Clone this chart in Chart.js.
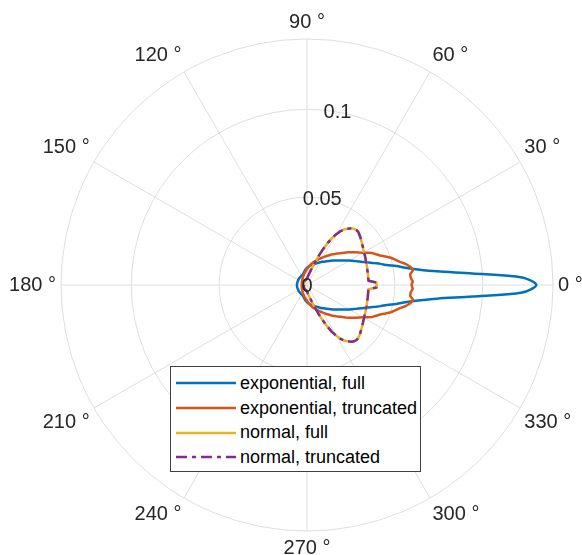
<!DOCTYPE html>
<html>
<head>
<meta charset="utf-8">
<title>Polar plot</title>
<style>
  html, body { margin: 0; padding: 0; background: #fff; overflow: hidden; }
  body { position: relative; width: 582px; height: 555px; }
  .chart-box { position: absolute; left: -4px; top: 0; width: 600px; height: 560px; }
  #legend {
    position: absolute; left: 170px; top: 366px; width: 251px; height: 106px;
    box-sizing: border-box; padding-top: 4px;
    border: 1px solid #404040; background: #fff;
  }
  .legend-row {
    display: flex; align-items: center; height: 24.7px;
    font: 18px "Liberation Sans", Arial, Helvetica, sans-serif; color: #000; white-space: nowrap;
  }
  .legend-row svg { margin-left: 5px; margin-right: 4px; flex: none; }
</style>
</head>
<body>
<div class="chart-box"><canvas id="chart"></canvas></div>
<div id="legend"></div>

<script src="https://cdn.jsdelivr.net/npm/chart.js@4.4.0/dist/chart.umd.min.js"></script>
<script>
// radius for theta = 0, 2, 4, ... 358 degrees
const angleStep = 2;

const expFull = [
  0.1305, 0.1225, 0.0943, 0.0744, 0.0637, 0.0568, 0.0520, 0.0468, 0.0436, 0.0403,
  0.0375, 0.0349, 0.0328, 0.0310, 0.0293, 0.0278, 0.0263, 0.0249, 0.0237, 0.0226,
  0.0217, 0.0208, 0.0200, 0.0191, 0.0184, 0.0177, 0.0170, 0.0164, 0.0159, 0.0154,
  0.0149, 0.0144, 0.0140, 0.0135, 0.0131, 0.0127, 0.0124, 0.0121, 0.0118, 0.0115,
  0.0113, 0.0110, 0.0107, 0.0104, 0.0101, 0.0098, 0.0094, 0.0091, 0.0087, 0.0084,
  0.0080, 0.0077, 0.0074, 0.0071, 0.0068, 0.0066, 0.0065, 0.0064, 0.0063, 0.0062,
  0.0062, 0.0061, 0.0061, 0.0060, 0.0060, 0.0060, 0.0059, 0.0059, 0.0059, 0.0059,
  0.0058, 0.0058, 0.0058, 0.0058, 0.0058, 0.0058, 0.0057, 0.0057, 0.0057, 0.0057,
  0.0057, 0.0057, 0.0057, 0.0057, 0.0057, 0.0057, 0.0057, 0.0057, 0.0057, 0.0057,
  0.0057, 0.0057, 0.0057, 0.0057, 0.0057, 0.0057, 0.0057, 0.0057, 0.0057, 0.0057,
  0.0057, 0.0057, 0.0057, 0.0057, 0.0057, 0.0058, 0.0058, 0.0058, 0.0058, 0.0058,
  0.0058, 0.0059, 0.0059, 0.0059, 0.0059, 0.0060, 0.0060, 0.0060, 0.0061, 0.0061,
  0.0062, 0.0062, 0.0063, 0.0064, 0.0065, 0.0066, 0.0068, 0.0071, 0.0074, 0.0077,
  0.0080, 0.0084, 0.0087, 0.0091, 0.0094, 0.0098, 0.0101, 0.0104, 0.0107, 0.0110,
  0.0113, 0.0115, 0.0118, 0.0121, 0.0124, 0.0127, 0.0131, 0.0135, 0.0140, 0.0144,
  0.0149, 0.0154, 0.0159, 0.0164, 0.0170, 0.0177, 0.0184, 0.0191, 0.0200, 0.0208,
  0.0217, 0.0226, 0.0237, 0.0249, 0.0263, 0.0278, 0.0293, 0.0310, 0.0328, 0.0349,
  0.0375, 0.0403, 0.0436, 0.0468, 0.0520, 0.0568, 0.0637, 0.0744, 0.0943, 0.1225,
];

const expTrunc = [
  0.0595, 0.0602, 0.0592, 0.0590, 0.0610, 0.0597, 0.0575, 0.0545, 0.0522, 0.0502,
  0.0475, 0.0449, 0.0430, 0.0414, 0.0392, 0.0367, 0.0349, 0.0334, 0.0318, 0.0302,
  0.0287, 0.0273, 0.0260, 0.0250, 0.0238, 0.0228, 0.0218, 0.0208, 0.0199, 0.0190,
  0.0182, 0.0174, 0.0167, 0.0160, 0.0153, 0.0147, 0.0141, 0.0136, 0.0130, 0.0124,
  0.0118, 0.0113, 0.0107, 0.0101, 0.0095, 0.0090, 0.0086, 0.0082, 0.0078, 0.0075,
  0.0072, 0.0069, 0.0066, 0.0063, 0.0061, 0.0058, 0.0056, 0.0054, 0.0052, 0.0050,
  0.0048, 0.0046, 0.0045, 0.0043, 0.0042, 0.0041, 0.0040, 0.0039, 0.0038, 0.0037,
  0.0036, 0.0035, 0.0035, 0.0034, 0.0034, 0.0033, 0.0033, 0.0032, 0.0032, 0.0032,
  0.0031, 0.0031, 0.0031, 0.0031, 0.0030, 0.0030, 0.0030, 0.0030, 0.0030, 0.0030,
  0.0030, 0.0030, 0.0030, 0.0030, 0.0030, 0.0030, 0.0030, 0.0031, 0.0031, 0.0031,
  0.0031, 0.0032, 0.0032, 0.0032, 0.0033, 0.0033, 0.0034, 0.0034, 0.0035, 0.0035,
  0.0036, 0.0037, 0.0038, 0.0039, 0.0040, 0.0041, 0.0042, 0.0043, 0.0045, 0.0046,
  0.0048, 0.0050, 0.0052, 0.0054, 0.0056, 0.0058, 0.0061, 0.0063, 0.0066, 0.0069,
  0.0072, 0.0075, 0.0078, 0.0082, 0.0086, 0.0090, 0.0095, 0.0101, 0.0107, 0.0113,
  0.0118, 0.0124, 0.0130, 0.0136, 0.0141, 0.0147, 0.0153, 0.0160, 0.0167, 0.0174,
  0.0182, 0.0190, 0.0199, 0.0208, 0.0218, 0.0228, 0.0238, 0.0250, 0.0260, 0.0273,
  0.0287, 0.0302, 0.0318, 0.0334, 0.0349, 0.0367, 0.0392, 0.0414, 0.0430, 0.0449,
  0.0475, 0.0502, 0.0522, 0.0545, 0.0575, 0.0597, 0.0610, 0.0590, 0.0592, 0.0602,
];

const normFull = [
  0.0396, 0.0396, 0.0351, 0.0350, 0.0351, 0.0352, 0.0353, 0.0354, 0.0356, 0.0358,
  0.0360, 0.0362, 0.0365, 0.0368, 0.0371, 0.0375, 0.0379, 0.0384, 0.0389, 0.0395,
  0.0401, 0.0408, 0.0414, 0.0420, 0.0421, 0.0418, 0.0410, 0.0396, 0.0383, 0.0362,
  0.0334, 0.0302, 0.0262, 0.0220, 0.0180, 0.0145, 0.0117, 0.0098, 0.0083, 0.0071,
  0.0062, 0.0055, 0.0049, 0.0044, 0.0040, 0.0037, 0.0035, 0.0033, 0.0032, 0.0031,
  0.0030, 0.0030, 0.0029, 0.0029, 0.0029, 0.0028, 0.0028, 0.0028, 0.0027, 0.0027,
  0.0027, 0.0026, 0.0026, 0.0025, 0.0025, 0.0025, 0.0024, 0.0024, 0.0023, 0.0023,
  0.0023, 0.0022, 0.0022, 0.0021, 0.0021, 0.0021, 0.0020, 0.0020, 0.0020, 0.0019,
  0.0019, 0.0019, 0.0018, 0.0018, 0.0018, 0.0018, 0.0017, 0.0017, 0.0017, 0.0017,
  0.0017, 0.0017, 0.0017, 0.0017, 0.0017, 0.0018, 0.0018, 0.0018, 0.0018, 0.0019,
  0.0019, 0.0019, 0.0020, 0.0020, 0.0020, 0.0021, 0.0021, 0.0021, 0.0022, 0.0022,
  0.0023, 0.0023, 0.0023, 0.0024, 0.0024, 0.0025, 0.0025, 0.0025, 0.0026, 0.0026,
  0.0027, 0.0027, 0.0027, 0.0028, 0.0028, 0.0028, 0.0029, 0.0029, 0.0029, 0.0030,
  0.0030, 0.0031, 0.0032, 0.0033, 0.0035, 0.0037, 0.0040, 0.0044, 0.0049, 0.0055,
  0.0062, 0.0071, 0.0083, 0.0098, 0.0117, 0.0145, 0.0180, 0.0220, 0.0262, 0.0302,
  0.0334, 0.0362, 0.0383, 0.0396, 0.0410, 0.0418, 0.0421, 0.0420, 0.0414, 0.0408,
  0.0401, 0.0395, 0.0389, 0.0384, 0.0379, 0.0375, 0.0371, 0.0368, 0.0365, 0.0362,
  0.0360, 0.0358, 0.0356, 0.0354, 0.0353, 0.0352, 0.0351, 0.0350, 0.0351, 0.0396,
];

// the truncated normal curve lies exactly on top of the full one
const normTrunc = normFull.slice();

const seriesNames = ["exponential, full", "exponential, truncated", "normal, full", "normal, truncated"];
const seriesColors = ["#0072BD", "#D95319", "#EDB120", "#7E2F8E"];

const rTicks = [0, 0.05, 0.1, 0.14];
const rTickLabels = ["0", "0.05", "0.1", ""];
const labelEvery = 30; // degrees between angle labels / spokes

const fontFamily = '"Liberation Sans", Arial, Helvetica, sans-serif';
const textColor = "#262626";
const gridColor = "#dedede";

// radar goes clockwise from the top, so walk the angles 90, 88, ... to get
// 0 deg on the right and angles growing counter-clockwise
const thetas = [];
for (let i = 0; i < 360 / angleStep; i++) {
  thetas.push((450 - i * angleStep) % 360);
}
const pick = (arr) => thetas.map((t) => arr[t / angleStep]);

const rTickLabelPlugin = {
  id: "rTickLabels",
  afterDatasetsDraw(chart) {
    const scale = chart.scales.r;
    const ctx = chart.ctx;
    const a = (80 * Math.PI) / 180; // MATLAB puts r labels at 80 deg
    ctx.save();
    ctx.font = `20px ${fontFamily}`;
    ctx.fillStyle = textColor;
    ctx.textAlign = "center";
    ctx.textBaseline = "middle";
    rTicks.forEach((v, i) => {
      if (!rTickLabels[i]) return;
      const d = scale.getDistanceFromCenterForValue(v);
      ctx.fillText(rTickLabels[i], scale.xCenter + d * Math.cos(a), scale.yCenter - d * Math.sin(a) + 1);
    });
    ctx.restore();
  },
};

const series = [expFull, expTrunc, normFull, normTrunc];

const chart = new Chart(document.getElementById("chart"), {
  type: "radar",
  data: {
    labels: thetas,
    datasets: series.map((s, k) => ({
      label: seriesNames[k],
      data: pick(s),
      borderColor: seriesColors[k],
      borderWidth: 2.5,
      borderDash: k === 3 ? [11, 5, 4, 5] : [],
      fill: false,
      pointRadius: 0,
      pointHoverRadius: 0,
      // blue is smooth, the others have sharp steps
      tension: k === 0 ? 0.3 : 0,
      order: series.length - k,
    })),
  },
  options: {
    responsive: true,
    maintainAspectRatio: false,
    animation: false,
    layout: { padding: { top: 10 } },
    elements: { line: { borderJoinStyle: "round" } },
    plugins: {
      legend: { display: false },
      tooltip: { enabled: false },
    },
    scales: {
      r: {
        min: 0,
        max: 0.14,
        afterBuildTicks: (scale) => {
          scale.ticks = rTicks.map((v) => ({ value: v }));
        },
        ticks: { display: false },
        grid: { circular: true, color: gridColor, lineWidth: 1 },
        angleLines: {
          color: gridColor,
          lineWidth: (c) => (thetas[c.index] % labelEvery === 0 ? 1 : 0),
        },
        pointLabels: {
          padding: 5,
          color: textColor,
          font: { family: fontFamily, size: 20 },
          callback: (label) => (label % labelEvery === 0 ? label + " °" : ""),
        },
      },
    },
  },
  plugins: [rTickLabelPlugin],
});

// html legend, placed where MATLAB put it
const legend = document.getElementById("legend");
chart.data.datasets.forEach((ds) => {
  const row = document.createElement("div");
  row.className = "legend-row";
  const dash = ds.borderDash.length ? ` stroke-dasharray="${ds.borderDash.join(" ")}"` : "";
  row.innerHTML =
    `<svg width="60" height="6"><line x1="0" y1="3" x2="60" y2="3" stroke="${ds.borderColor}" stroke-width="2.5"${dash}/></svg>` +
    `<span>${ds.label}</span>`;
  legend.appendChild(row);
});
</script>
</body>
</html>
